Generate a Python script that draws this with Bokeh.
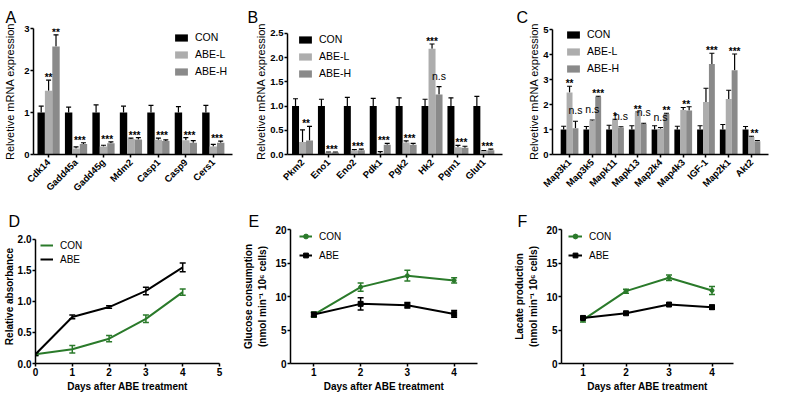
import math
from bokeh.plotting import figure
from bokeh.models import (ColumnDataSource, FixedTicker, Whisker, TeeHead,
                          Legend, LegendItem, NumeralTickFormatter)
from bokeh.layouts import column, row
from bokeh.embed import file_html
from bokeh.resources import INLINE
from bokeh.core.properties import value

FONT = "Liberation Sans"
BLACK = "#000000"
LIGHT = "#adadad"
DARK = "#8a8a8a"
GREEN = "#2a7a2a"

# ---------------- data ----------------
series_names = ["CON", "ABE-L", "ABE-H"]

a_genes = ["Cdk14", "Gadd45a", "Gadd45g", "Mdm2", "Casp1", "Casp9", "Cers1"]
a_con = [1.0, 1.0, 1.0, 1.0, 1.0, 1.0, 1.0]
a_con_err = [0.15, 0.13, 0.18, 0.15, 0.17, 0.14, 0.17]
a_low = [1.52, 0.14, 0.19, 0.37, 0.35, 0.34, 0.19]
a_low_err = [0.25, 0.04, 0.03, 0.02, 0.04, 0.06, 0.05]
a_high = [2.57, 0.25, 0.27, 0.36, 0.32, 0.28, 0.28]
a_high_err = [0.28, 0.03, 0.03, 0.04, 0.03, 0.05, 0.04]
a_sig_low = ["**", "", "", "", "", "", ""]
a_sig_high = ["**", "", "", "", "", "", ""]
a_sig_pair = ["", "***", "***", "***", "***", "***", "***"]
a_yticks = [0, 1, 2, 3]

b_genes = ["Pkm2", "Eno1", "Eno2", "Pdk1", "Pgk2", "Hk2", "Pgm1", "Glut1"]
b_con = [1.0, 1.0, 1.0, 1.0, 1.0, 1.0, 1.0, 1.0]
b_con_err = [0.15, 0.14, 0.18, 0.16, 0.17, 0.14, 0.17, 0.20]
b_low = [0.26, 0.04, 0.08, 0.02, 0.25, 2.18, 0.15, 0.07]
b_low_err = [0.25, 0.01, 0.02, 0.04, 0.03, 0.10, 0.04, 0.01]
b_high = [0.29, 0.04, 0.09, 0.20, 0.20, 1.24, 0.14, 0.09]
b_high_err = [0.29, 0.01, 0.02, 0.03, 0.03, 0.16, 0.03, 0.02]
b_sig_low = ["", "", "", "", "", "***", "", ""]
b_sig_high = ["", "", "", "", "", "n.s", "", ""]
b_sig_pair = ["**", "***", "***", "***", "***", "", "***", "***"]
b_yticks = [0, 0.5, 1.0, 1.5, 2.0, 2.5]

c_genes = ["Map3k1", "Map3k5", "Mapk11", "Mapk13", "Map2k4", "Map4k3", "IGF-1", "Map2k1", "Akt2"]
c_con = [1.0, 1.0, 1.0, 1.0, 1.0, 1.0, 1.0, 1.0, 1.0]
c_con_err = [0.13, 0.12, 0.17, 0.15, 0.15, 0.13, 0.15, 0.20, 0.12]
c_low = [2.48, 1.35, 1.38, 1.67, 1.03, 1.78, 2.10, 2.22, 0.70]
c_low_err = [0.25, 0.03, 0.03, 0.03, 0.05, 0.10, 0.55, 0.35, 0.03]
c_high = [1.05, 2.30, 1.08, 1.22, 1.62, 1.76, 3.62, 3.37, 0.53]
c_high_err = [0.28, 0.03, 0.03, 0.03, 0.03, 0.15, 0.43, 0.65, 0.03]
c_sig_low = ["**", "n.s", "*", "**", "n.s", "", "", "", ""]
c_sig_high = ["n.s", "***", "n.s", "n.s", "**", "", "***", "***", ""]
c_sig_pair = ["", "", "", "", "", "**", "", "", "**"]
c_yticks = [0, 1, 2, 3, 4, 5]

line_names = ["CON", "ABE"]

d_days = [0, 1, 2, 3, 4]
d_con = [0.15, 0.23, 0.40, 0.72, 1.15]
d_con_err = [0.02, 0.06, 0.05, 0.06, 0.05]
d_abe = [0.15, 0.75, 0.91, 1.17, 1.55]
d_abe_err = [0.02, 0.03, 0.02, 0.06, 0.07]
d_xticks = [0, 1, 2, 3, 4, 5]
d_yticks = [0, 0.5, 1.0, 1.5, 2.0]

e_days = [1, 2, 3, 4]
e_con = [7.3, 11.4, 13.1, 12.4]
e_con_err = [0.4, 0.6, 0.8, 0.4]
e_abe = [7.3, 8.9, 8.7, 7.4]
e_abe_err = [0.3, 0.9, 0.4, 0.5]

f_days = [1, 2, 3, 4]
f_con = [6.5, 10.8, 12.8, 10.9]
f_con_err = [0.3, 0.3, 0.4, 0.6]
f_abe = [6.8, 7.5, 8.8, 8.4]
f_abe_err = [0.2, 0.2, 0.2, 0.3]
ef_xticks = [1, 2, 3, 4]
ef_yticks = [0, 5, 10, 15, 20]

x_title = "Days after ABE treatment"
bar_ytitle = "Relvetive mRNA expression"


# ---------------- helpers ----------------
def make_fig(w, h, borders, x_range, y_range):
    left, right, top, bottom = borders
    p = figure(width=w, height=h, x_range=x_range, y_range=y_range,
               output_backend="svg", toolbar_location=None,
               min_border_left=left, min_border_right=right,
               min_border_top=top, min_border_bottom=bottom)
    p.grid.visible = False
    p.outline_line_color = None
    for ax in p.axis:
        ax.axis_line_width = 1.5
        ax.axis_line_color = "black"
        ax.major_tick_line_width = 1.5
        ax.major_tick_line_color = "black"
        ax.major_tick_in = 0
        ax.major_tick_out = 3
        ax.minor_tick_line_color = None
        ax.major_label_standoff = 1
        ax.major_label_text_font = FONT
        ax.major_label_text_font_style = "bold"
        ax.major_label_text_font_size = "9.5px"
        ax.major_label_text_color = "black"
        ax.axis_label_text_font = FONT
        ax.axis_label_text_color = "black"
        ax.axis_label_text_font_style = "normal"
    return p


def letter(p, text, offset, standoff):
    p.title.text = text
    p.title.align = "left"
    p.title.offset = offset
    p.title.standoff = standoff
    p.title.text_font = FONT
    p.title.text_font_size = "16px"
    p.title.text_font_style = "normal"
    p.title.text_color = "black"


def bar_panel(genes, con, con_err, low, low_err, high, high_err,
              sig_low, sig_high, sig_pair, yticks, y_end, w, h, borders, x_range, bar_w,
              legend_xy, fmt=None):
    n = len(genes)
    idx = list(range(n))
    xc = [i - bar_w for i in idx]
    xl = idx
    xh = [i + bar_w for i in idx]
    src = ColumnDataSource(dict(
        xc=xc, xl=xl, xh=xh, con=con, low=low, high=high,
        con_top=[v + e for v, e in zip(con, con_err)],
        low_top=[v + e for v, e in zip(low, low_err)],
        high_top=[v + e for v, e in zip(high, high_err)]))
    p = make_fig(w, h, borders, x_range, (0, y_end))
    rs = []
    for xf, yf, col in (("xc", "con", BLACK), ("xl", "low", LIGHT), ("xh", "high", DARK)):
        rs.append(p.vbar(x=xf, top=yf, width=bar_w, source=src,
                         fill_color=col, line_color=None))
    for xf, yf in (("xc", "con"), ("xl", "low"), ("xh", "high")):
        p.add_layout(Whisker(source=src, base=xf, lower=yf, upper=yf + "_top",
                             line_color="black", line_width=1.2, lower_head=None,
                             upper_head=TeeHead(size=5, line_color="black", line_width=1.2)))
    sx, sy, st, nx, ny, nt = [], [], [], [], [], []
    for i in idx:
        lt = low[i] + low_err[i]
        ht = high[i] + high_err[i]
        for lab, x, y in ((sig_low[i], xl[i], lt), (sig_high[i], xh[i], ht),
                          (sig_pair[i], i + bar_w / 2, max(lt, ht))):
            if not lab:
                continue
            if lab == "n.s":
                nx.append(x); ny.append(y); nt.append(lab)
            else:
                sx.append(x); sy.append(y); st.append(lab)
    p.text(x=sx, y=sy, text=st, text_align="center", text_baseline="bottom",
           text_font=value(FONT), text_font_size="10px", text_font_style="bold",
           text_color="black", y_offset=3)
    p.text(x=nx, y=ny, text=nt, text_align="center", text_baseline="bottom",
           text_font=value(FONT), text_font_size="10.5px", text_color="black",
           y_offset=-5)
    p.xaxis.ticker = FixedTicker(ticks=idx)
    p.xaxis.major_label_overrides = {i: g for i, g in enumerate(genes)}
    p.xaxis.major_label_orientation = math.pi / 4
    p.xaxis.major_label_standoff = 3
    p.yaxis.ticker = FixedTicker(ticks=yticks)
    p.yaxis.bounds = (0, yticks[-1])
    if fmt:
        p.yaxis.formatter = NumeralTickFormatter(format=fmt)
    p.yaxis.axis_label = bar_ytitle
    p.yaxis.axis_label_text_font_size = "11px"
    leg = Legend(items=[LegendItem(label=nm, renderers=[r]) for nm, r in zip(series_names, rs)],
                 location=legend_xy, glyph_width=16, glyph_height=9, label_height=12,
                 spacing=5, padding=0, margin=0, label_standoff=6,
                 border_line_color=None, background_fill_alpha=0,
                 label_text_font=FONT, label_text_font_size="10.5px",
                 label_text_color="black")
    p.add_layout(leg)
    return p


def line_panel(days, con, con_err, abe, abe_err, xticks, yticks, y_end, w, h, borders,
               x_range, legend_xy, spacing, glyph_w, markers, fmt=None):
    p = make_fig(w, h, borders, x_range, (0, y_end))
    items = []
    for nm, vals, errs, col, mk, msz in ((line_names[0], con, con_err, GREEN, "circle", 4),
                                         (line_names[1], abe, abe_err, BLACK, "square", 5)):
        src = ColumnDataSource(dict(x=days, y=vals,
                                    lo=[v - e for v, e in zip(vals, errs)],
                                    hi=[v + e for v, e in zip(vals, errs)]))
        r = p.line("x", "y", source=src, line_color=col, line_width=2)
        rr = [r]
        if markers:
            rr.append(p.scatter("x", "y", source=src, marker=mk, size=msz,
                                fill_color=col, line_color=col))
        p.add_layout(Whisker(source=src, base="x", lower="lo", upper="hi",
                             line_color=col, line_width=1.5,
                             lower_head=TeeHead(size=6, line_color=col, line_width=1.5),
                             upper_head=TeeHead(size=6, line_color=col, line_width=1.5)))
        items.append(LegendItem(label=nm, renderers=rr))
    p.xaxis.ticker = FixedTicker(ticks=xticks)
    p.yaxis.ticker = FixedTicker(ticks=yticks)
    p.yaxis.bounds = (0, yticks[-1])
    for ax in p.axis:
        ax.major_label_text_font_size = "10px"
    if fmt:
        p.yaxis.formatter = NumeralTickFormatter(format=fmt)
    p.xaxis.axis_label = x_title
    p.xaxis.axis_label_text_font_size = "10px"
    p.xaxis.axis_label_text_font_style = "bold"
    p.xaxis.axis_label_standoff = 2
    p.yaxis.axis_label_text_font_size = "10px"
    p.yaxis.axis_label_text_font_style = "bold"
    leg = Legend(items=items, location=legend_xy, glyph_width=glyph_w, glyph_height=12,
                 label_height=12, spacing=spacing, padding=0, margin=0, label_standoff=7,
                 border_line_color=None, background_fill_alpha=0,
                 label_text_font=FONT, label_text_font_size="10px",
                 label_text_color="black")
    p.add_layout(leg)
    return p


# ---------------- panels ----------------
pA = bar_panel(a_genes, a_con, a_con_err, a_low, a_low_err, a_high, a_high_err,
               a_sig_low, a_sig_high, a_sig_pair, a_yticks, 3.0,
               240, 200, (33, 8, 28, 42), (-0.55, 6.7), 0.27, (140, 77))
pA.yaxis.axis_label_standoff = 5
letter(pA, "A", -28, 6)

pB = bar_panel(b_genes, b_con, b_con_err, b_low, b_low_err, b_high, b_high_err,
               b_sig_low, b_sig_high, b_sig_pair, b_yticks, 2.6,
               271, 200, (47, 9, 28, 42), (-0.58, 7.72), 0.27, (10, 75), fmt="0.0")
pB.yaxis.axis_label_standoff = 0
letter(pB, "B", -40, 6)

pC = bar_panel(c_genes, c_con, c_con_err, c_low, c_low_err, c_high, c_high_err,
               c_sig_low, c_sig_high, c_sig_pair, c_yticks, 5.04,
               266, 200, (41, 9, 28, 42), (-0.75, 8.75), 0.26, (13, 80))
pC.yaxis.axis_label_standoff = 0
letter(pC, "C", -36, 6)

pD = line_panel(d_days, d_con, d_con_err, d_abe, d_abe_err, d_xticks, d_yticks, 2.16,
                240, 194, (32, 21, 29, 30), (0, 5), (5, 98), 2, 13, False, fmt="0.0")
pD.yaxis.axis_label = "Relative absorbance"
pD.yaxis.axis_label_standoff = 0
letter(pD, "D", -27, -1)

pE = line_panel(e_days, e_con, e_con_err, e_abe, e_abe_err, ef_xticks, ef_yticks, 20,
                271, 194, (48, 34, 29, 30), (0.5, 4.5), (9, 102), 7, 13, True)
pE.yaxis.axis_label = "Glucose consumption\n(nmol min\u207b\u00b9 10\u2076 cells)"
pE.yaxis.axis_label_standoff = 4
pE.yaxis.axis_label_text_line_height = 1.3
letter(pE, "E", -42, -1)

pF = line_panel(f_days, f_con, f_con_err, f_abe, f_abe_err, ef_xticks, ef_yticks, 20,
                266, 194, (46, 44, 29, 30), (0.5, 4.5), (7, 102), 7, 14, True)
pF.yaxis.axis_label = "Lacate production\n(nmol min\u207b\u00b9 10\u2076 cells)"
pF.yaxis.axis_label_standoff = 4
pF.yaxis.axis_label_text_line_height = 1.3
letter(pF, "F", -44, -1)

layout = column(row(pA, pB, pC), row(pD, pE, pF))
open("out.html", "w").write(file_html(layout, INLINE))
